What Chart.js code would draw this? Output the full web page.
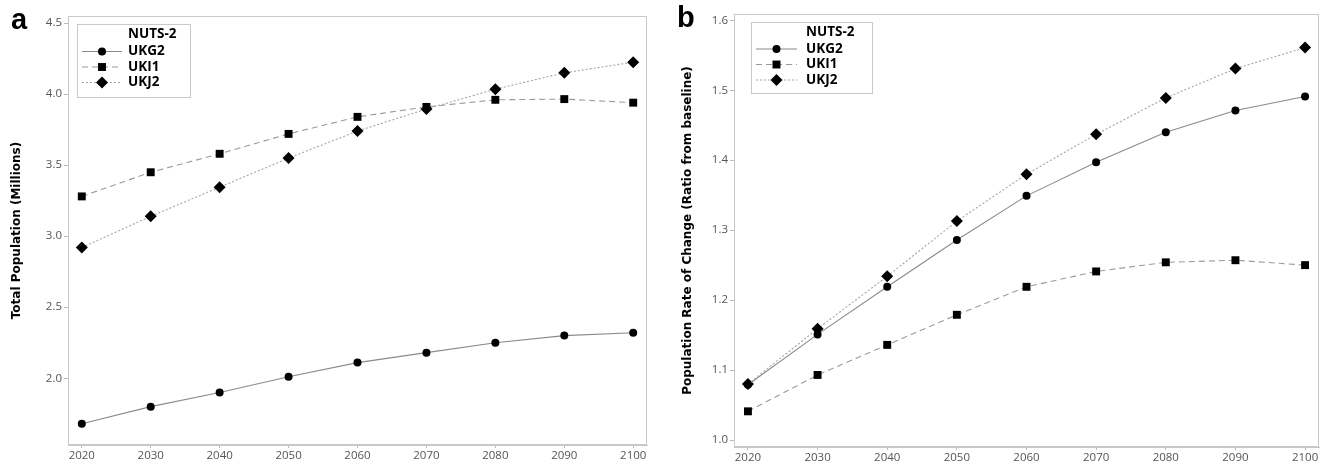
<!DOCTYPE html>
<html>
<head>
<meta charset="utf-8">
<script src="https://cdn.jsdelivr.net/npm/chart.js@4"></script>
<style>
  body { margin: 0; background: #fff; }
  .panel { position: absolute; top: 0; width: 663px; height: 465px; }
  .letter { position: absolute; font: bold 29px "Liberation Sans", Arial, sans-serif; color: #000; }
</style>
</head>
<body>
<div class="panel" style="left:0"><canvas id="chartA"></canvas></div>
<div class="panel" style="left:663px"><canvas id="chartB"></canvas></div>
<div class="letter" style="left:11px; top:3px">a</div>
<div class="letter" style="left:677px; top:1px">b</div>
<script>
const years = [2020, 2030, 2040, 2050, 2060, 2070, 2080, 2090, 2100];
const regions = ['UKG2', 'UKI1', 'UKJ2'];

// panel a: total population (millions)
const popUKG2 = [1.68, 1.80, 1.90, 2.01, 2.11, 2.18, 2.25, 2.30, 2.32];
const popUKI1 = [3.28, 3.45, 3.58, 3.72, 3.84, 3.91, 3.96, 3.965, 3.94];
const popUKJ2 = [2.92, 3.14, 3.345, 3.55, 3.74, 3.895, 4.035, 4.15, 4.225];

// panel b: ratio from baseline
const rateUKG2 = [1.079, 1.151, 1.219, 1.286, 1.349, 1.397, 1.440, 1.471, 1.491];
const rateUKI1 = [1.041, 1.093, 1.136, 1.179, 1.219, 1.241, 1.254, 1.257, 1.250];
const rateUKJ2 = [1.080, 1.159, 1.234, 1.313, 1.380, 1.437, 1.489, 1.531, 1.561];

const popTicks = [2.0, 2.5, 3.0, 3.5, 4.0, 4.5];
const rateTicks = [1.0, 1.1, 1.2, 1.3, 1.4, 1.5, 1.6];

const styles = [
  { borderColor: '#8a8a8a', borderDash: [], pointStyle: 'circle', pointRadius: 4 },
  { borderColor: '#9a9a9a', borderDash: [6, 4], pointStyle: 'rect', pointRadius: 5.6 },
  { borderColor: '#a4a4a4', borderDash: [2, 2], pointStyle: 'rectRot', pointRadius: 6 }
];

function makeDatasets(seriesList) {
  return seriesList.map((vals, i) => ({
    label: regions[i],
    data: vals.map((v, j) => ({ x: years[j], y: v })),
    borderColor: styles[i].borderColor,
    borderDash: styles[i].borderDash,
    borderWidth: 1.1,
    pointStyle: styles[i].pointStyle,
    pointRadius: styles[i].pointRadius,
    pointBackgroundColor: '#000',
    pointBorderColor: '#000',
    pointBorderWidth: 0,
    tension: 0
  }));
}

// frame round the plot area and the boxed legend
const framePlugin = {
  id: 'frameLegend',
  afterDraw(chart, args, opts) {
    const ctx = chart.ctx;
    const a = chart.chartArea;
    ctx.save();
    ctx.strokeStyle = '#c8c8c8';
    ctx.lineWidth = 1;
    ctx.strokeRect(a.left + 0.5, a.top + 0.5, a.right - a.left - 1, a.bottom - a.top - 1);

    const L = opts;
    ctx.strokeStyle = '#c8c8c8';
    ctx.strokeRect(L.x + 0.5, L.y + 0.5, L.w, L.h);
    ctx.fillStyle = '#000';
    ctx.font = 'bold 13.5px "Open Sans", sans-serif';
    ctx.textBaseline = 'middle';
    ctx.textAlign = 'left';
    ctx.fillText('NUTS-2', L.textX, L.titleY);
    chart.data.datasets.forEach((ds, i) => {
      const y = L.rowY[i];
      ctx.strokeStyle = ds.borderColor;
      ctx.lineWidth = 1.1;
      ctx.setLineDash(ds.borderDash);
      ctx.beginPath();
      ctx.moveTo(L.lineX0, y);
      ctx.lineTo(L.lineX1, y);
      ctx.stroke();
      ctx.setLineDash([]);
      ctx.fillStyle = '#000';
      ctx.strokeStyle = '#000';
      Chart.helpers.drawPoint(ctx, { pointStyle: ds.pointStyle, radius: ds.pointRadius, rotation: 0, borderWidth: 0 }, (L.lineX0 + L.lineX1) / 2, y);
      ctx.fillStyle = '#000';
      ctx.fillText(ds.label, L.textX, y);
    });
    ctx.restore();
  }
};

function makeOptions(cfg) {
  return {
    responsive: true,
    maintainAspectRatio: false,
    animation: false,
    layout: { padding: cfg.padding },
    plugins: {
      legend: { display: false },
      tooltip: { enabled: false },
      frameLegend: cfg.legend
    },
    scales: {
      x: {
        type: 'linear',
        min: 2018,
        max: 2102,
        afterBuildTicks: s => { s.ticks = years.map(v => ({ value: v })); },
        afterFit: s => { s.height = cfg.xHeight; },
        ticks: {
          callback: v => String(v),
          color: '#555',
          font: { family: '"Open Sans", sans-serif', size: 11.5 },
          padding: 1,
          maxRotation: 0,
          autoSkip: false
        },
        grid: { drawOnChartArea: false, drawTicks: true, tickLength: 3, color: '#bbb' },
        border: { color: '#c8c8c8' }
      },
      y: {
        min: cfg.yMin,
        max: cfg.yMax,
        afterBuildTicks: s => { s.ticks = cfg.yTicks.map(v => ({ value: v })); },
        afterFit: s => { s.width = cfg.yWidth; },
        ticks: {
          callback: v => v.toFixed(1),
          color: '#555',
          font: { family: '"Open Sans", sans-serif', size: 11.5 },
          padding: 2,
          autoSkip: false
        },
        grid: { drawOnChartArea: false, drawTicks: true, tickLength: 4, color: '#bbb' },
        border: { color: '#c8c8c8' },
        title: {
          display: true,
          text: cfg.yTitle,
          color: '#000',
          font: { family: '"DejaVu Sans", sans-serif', size: 12, weight: 'bold' },
          padding: { top: 4, bottom: 4 }
        }
      }
    }
  };
}

new Chart(document.getElementById('chartA'), {
  type: 'line',
  data: { datasets: makeDatasets([popUKG2, popUKI1, popUKJ2]) },
  options: makeOptions({
    padding: { left: 6, top: 16, right: 16, bottom: 0 },
    xHeight: 20,
    yWidth: 62,
    yMin: 1.53,
    yMax: 4.55,
    yTicks: popTicks,
    yTitle: 'Total Population (Millions)',
    legend: { x: 77, y: 24, w: 113, h: 73, textX: 128, titleY: 34, rowY: [51.5, 67, 82.5], lineX0: 82, lineX1: 122 }
  }),
  plugins: [framePlugin]
});

new Chart(document.getElementById('chartB'), {
  type: 'line',
  data: { datasets: makeDatasets([rateUKG2, rateUKI1, rateUKJ2]) },
  options: makeOptions({
    padding: { left: 14, top: 14, right: 7, bottom: 0 },
    xHeight: 18,
    yWidth: 57,
    yMin: 0.99,
    yMax: 1.609,
    yTicks: rateTicks,
    yTitle: 'Population Rate of Change (Ratio from baseline)',
    legend: { x: 88, y: 22, w: 121, h: 71, textX: 143, titleY: 32, rowY: [49, 64.5, 80], lineX0: 93, lineX1: 134 }
  }),
  plugins: [framePlugin]
});
</script>
</body>
</html>
